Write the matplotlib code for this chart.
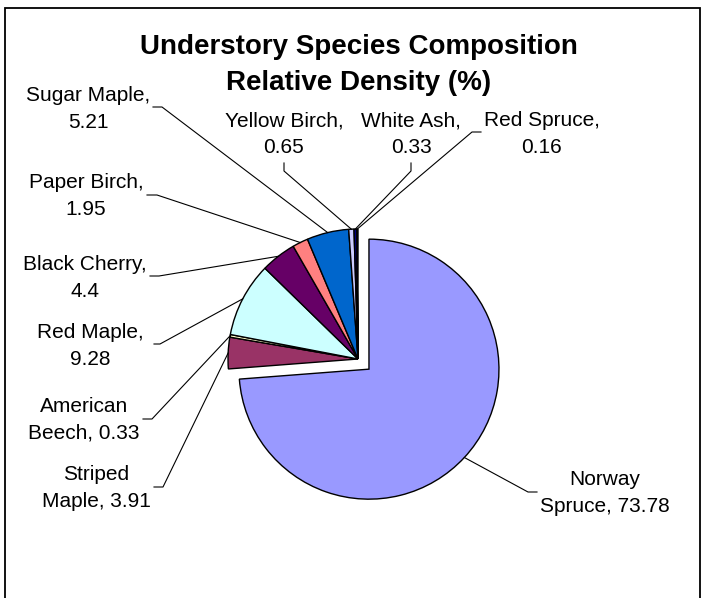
import matplotlib
matplotlib.use("Agg")
import matplotlib.pyplot as plt
import numpy as np
from matplotlib.patches import Rectangle

plt.rcParams['font.family'] = ['Liberation Sans', 'DejaVu Sans']

# understory composition, clockwise from 12 o'clock
species = ["Norway\nSpruce", "Striped\nMaple", "American\nBeech", "Red Maple",
           "Black Cherry", "Paper Birch", "Sugar Maple", "Yellow Birch",
           "White Ash", "Red Spruce"]
density = [73.78, 3.91, 0.33, 9.28, 4.4, 1.95, 5.21, 0.65, 0.33, 0.16]
colors = ["#9999FF", "#993366", "#FFFFCC", "#CCFFFF", "#660066",
          "#FF8080", "#0066CC", "#CCCCFF", "#000080", "#FF00FF"]

W, H = 704, 598
R = 130

# label placement in pixel coords (y down): text centre, leader start, leader elbow
label_pos = [(605, 493), (96, 488), (84, 420), (90, 346), (85, 278),
             (86, 196), (88, 109), (284, 134), (411, 134), (542, 134)]
leader_pts = [((537, 492), (528, 492)),
              ((154, 487), (163, 487)),
              ((143, 419), (152, 419)),
              ((154, 344), (160, 344)),
              ((150, 276), (159, 276)),
              ((147, 195), (157, 195)),
              ((153, 107), (162, 107)),
              ((284, 163), (284, 171)),
              ((411, 163), (411, 171)),
              ((481, 132), (472, 132))]


def fy(y):
    return H - y


fig = plt.figure(figsize=(W / 100, H / 100), dpi=100)
ax = fig.add_axes([0, 0, 1, 1])

# pull the dominant slice out a little
explode = [0.115 * R] + [0] * (len(density) - 1)
wedges, _ = ax.pie(density, colors=colors, explode=explode, startangle=90,
                   counterclock=False, radius=R, center=(358, fy(359)),
                   wedgeprops=dict(edgecolor="black", linewidth=1.0),
                   frame=True)

for i, w in enumerate(wedges):
    name = species[i]
    if "\n" in name:
        txt = f"{name}, {density[i]}"
    else:
        txt = f"{name},\n{density[i]}"
    tx, ty = label_pos[i]
    ax.text(tx, fy(ty), txt, ha="center", va="center", fontsize=15,
            linespacing=1.5, multialignment="center")
    mid = np.deg2rad((w.theta1 + w.theta2) / 2)
    cx, cy = w.center
    px, py = cx + w.r * np.cos(mid), cy + w.r * np.sin(mid)
    (sx, sy), (ex, ey) = leader_pts[i]
    ax.plot([sx, ex, px], [fy(sy), fy(ey), py], color="black", lw=0.8)

ax.text(359, fy(47), "Understory Species Composition", ha="center", va="center",
        fontsize=20, fontweight="bold")
ax.text(359, fy(83), "Relative Density (%)", ha="center", va="center",
        fontsize=20, fontweight="bold")

ax.add_patch(Rectangle((5, fy(H + 10)), 695, H + 2, fill=False,
                       edgecolor="black", linewidth=1.3))

ax.set_xlim(0, W)
ax.set_ylim(0, H)
ax.set_aspect("equal")
ax.axis("off")

fig.savefig("out.png", dpi=100)
